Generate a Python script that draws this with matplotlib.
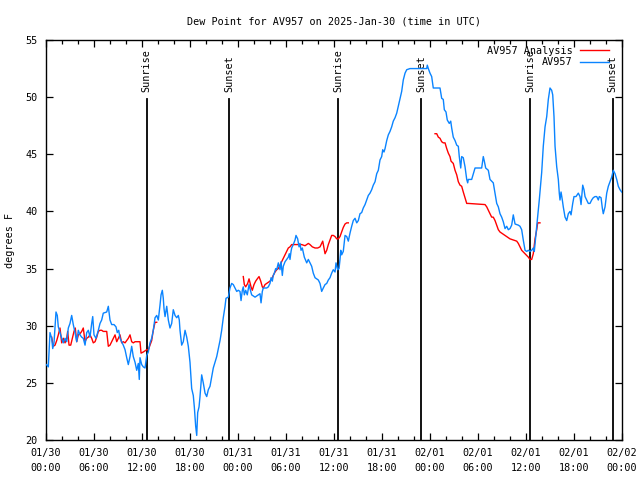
import numpy as np
import matplotlib
matplotlib.use("Agg")
import matplotlib.pyplot as plt
from matplotlib.ticker import MultipleLocator

# ---- data (hours since 2025-01-30 00:00 UTC, dew point in F) ----
obs_hours = [0.05, 0.29, 0.5, 0.71, 0.84, 1.0, 1.25, 1.41, 1.54, 1.75, 1.96, 2.16, 2.38, 2.59, 2.79, 3.0,
             3.21, 3.41, 3.63, 3.84, 4.04, 4.25, 4.46, 4.66, 4.88, 5.09, 5.29, 5.5, 5.71, 5.84, 6.0, 6.25,
             6.54, 6.75, 6.96, 7.16, 7.59, 7.79, 8.0, 8.21, 8.5, 8.75, 8.91, 9.09, 9.25, 9.46, 9.66, 9.88,
             10.09, 10.29, 10.5, 10.71, 10.91, 11.13, 11.34, 11.54, 11.66, 11.75, 11.96, 12.16, 12.38, 12.59,
             12.79, 13.0, 13.21, 13.41, 13.63, 13.84, 14.04, 14.25, 14.38, 14.54, 14.66, 14.75, 14.88, 15.09,
             15.29, 15.5, 15.71, 15.91, 16.13, 16.34, 16.54, 16.66, 16.75, 16.96, 17.16, 17.38, 17.59, 17.79,
             18.0, 18.21, 18.41, 18.54, 18.71, 18.84, 18.96, 19.13, 19.25, 19.46, 19.66, 19.88, 20.09, 20.29,
             20.5, 20.71, 20.91, 21.13, 21.34, 21.54, 21.75, 21.96, 22.16, 22.38, 22.5, 22.79, 23.0, 23.21,
             23.41, 23.63, 23.84, 24.04, 24.25, 24.38, 24.54, 24.66, 24.79, 24.96, 25.16, 25.38, 25.59, 25.71,
             26.13, 26.54, 26.75, 26.88, 27.04, 27.16, 27.59, 27.79, 28.0, 28.13, 28.29, 28.41, 28.54, 28.71,
             28.84, 29.04, 29.25, 29.38, 29.54, 29.66, 29.88, 30.09, 30.29, 30.41, 30.5, 30.63, 30.71, 30.91,
             31.13, 31.25, 31.46, 31.63, 31.75, 31.88, 32.04, 32.29, 32.59, 32.79, 33.0, 33.21, 33.41, 33.63,
             34.04, 34.25, 34.46, 34.66, 34.88, 35.09, 35.29, 35.5, 35.71, 35.91, 36.13, 36.25, 36.46, 36.63,
             36.75, 36.84, 36.96, 37.16, 37.38, 37.59, 37.79, 38.0, 38.21, 38.41, 38.63, 38.84, 39.04, 39.25,
             39.46, 39.66, 39.88, 40.09, 40.29, 40.5, 40.71, 40.91, 41.13, 41.34, 41.54, 41.75, 41.96, 42.09,
             42.25, 42.38, 42.59, 42.79, 43.0, 43.21, 43.41, 43.63, 43.84, 44.04, 44.25, 44.46, 44.66, 44.88,
             45.09, 45.5, 47.59, 47.66, 47.79, 48.0, 48.21, 48.41, 49.25, 49.46, 49.66, 49.79, 50.0, 50.16,
             50.41, 50.59, 50.71, 50.91, 51.13, 51.34, 51.54, 51.66, 51.84, 51.96, 52.16, 52.38, 52.59, 52.71,
             52.79, 53.21, 53.63, 54.46, 54.66, 54.79, 54.96, 55.29, 55.5, 55.91, 56.13, 56.34, 56.54, 56.75,
             56.96, 57.16, 57.38, 57.59, 57.79, 58.0, 58.21, 58.41, 58.63, 59.04, 59.25, 59.46, 59.66, 59.88,
             60.09, 60.29, 60.5, 60.71, 60.91, 61.04, 61.21, 61.34, 61.54, 61.66, 61.84, 61.96, 62.16, 62.38,
             62.59, 62.79, 63.0, 63.21, 63.34, 63.5, 63.63, 63.84, 64.04, 64.16, 64.25, 64.38, 64.54, 64.66,
             64.88, 65.09, 65.29, 65.5, 65.63, 65.84, 66.0, 66.25, 66.54, 66.75, 66.88, 67.09, 67.25, 67.38,
             67.59, 67.79, 68.0, 68.21, 68.41, 68.63, 68.84, 69.04, 69.16, 69.38, 69.54, 69.66, 69.88, 70.09,
             70.29, 70.5, 70.71, 70.91, 71.13, 71.34, 71.54, 71.75, 71.96]
obs_dewpt = [26.6, 26.4, 29.4, 28.9, 28.0, 28.5, 31.2, 30.9, 29.9, 29.4, 28.9, 28.5, 28.9, 28.6, 29.8, 30.2,
             30.9, 30.1, 29.4, 28.6, 29.6, 29.2, 29.0, 28.9, 28.3, 29.4, 29.6, 29.0, 30.2, 30.8, 29.2, 28.9,
             29.6, 30.2, 30.5, 31.1, 31.2, 31.7, 30.5, 30.1, 30.1, 29.9, 29.4, 29.6, 28.9, 28.6, 28.3, 27.9,
             27.2, 26.6, 27.3, 28.2, 27.3, 26.8, 26.1, 26.7, 25.3, 27.2, 26.6, 26.4, 26.3, 27.4,
             27.7, 28.5, 28.9, 29.6, 30.7, 30.9, 30.5, 31.8, 32.7, 33.1, 32.4, 31.5, 30.8, 31.7,
             30.5, 29.8, 30.2, 31.4, 30.9, 30.7, 30.9, 30.5, 29.6, 28.3, 28.6, 29.6, 29.0, 28.2,
             26.8, 24.5, 23.9, 22.9, 21.2, 20.4, 22.4, 22.9, 23.8, 25.7, 25.0, 24.1, 23.8, 24.4,
             24.7, 25.5, 26.3, 26.8, 27.3, 28.0, 28.7, 29.6, 30.7, 31.7, 32.4, 32.5, 33.3, 33.7,
             33.6, 33.3, 33.0, 33.1, 33.0, 32.2, 33.1, 33.4, 32.7, 33.1, 32.7, 33.6, 33.0, 32.7,
             32.5, 32.7, 32.8, 32.0, 33.0, 33.3, 33.3, 33.4, 33.7, 34.2, 33.9, 34.4, 34.6, 35.0,
             34.9, 35.5, 34.9, 35.6, 34.4, 35.2, 35.6, 35.8, 36.0, 36.3, 35.8, 36.5, 36.8, 37.1,
             37.5, 37.9, 37.6, 36.9, 37.2, 36.6, 36.8, 36.0, 35.5, 35.8, 35.5, 35.2, 34.6, 34.2,
             34.0, 33.7, 33.0, 33.3, 33.6, 33.7, 34.0, 34.2, 34.6, 34.9, 34.7, 35.5, 34.9, 35.0,
             35.8, 36.6, 36.2, 36.5, 37.9, 37.8, 37.4, 38.1, 38.7, 39.2, 39.4, 39.0, 39.2, 39.8,
             39.9, 40.3, 40.6, 41.0, 41.4, 41.6, 41.9, 42.3, 42.6, 43.3, 43.6, 44.5, 44.8, 45.4,
             45.2, 45.5, 46.2, 46.7, 47.0, 47.4, 47.9, 48.2, 48.6, 49.2, 49.8, 50.5, 51.5, 52.1,
             52.4, 52.5, 52.5, 52.8, 52.5, 52.1, 51.8, 50.8, 50.8, 49.9, 49.8, 48.9, 48.7, 48.0,
             47.7, 47.9, 47.3, 46.5, 46.2, 45.8, 45.7, 44.8, 43.8, 44.8, 44.7, 43.9, 42.8, 42.5,
             42.8, 42.8, 43.8, 43.8, 44.8, 44.4, 43.8, 43.6, 42.8, 42.5, 41.6, 40.7, 40.4, 39.8,
             39.5, 39.1, 38.5, 38.7, 38.4, 38.5, 38.8, 39.7, 38.9, 38.8, 38.7, 38.4, 37.5, 36.6,
             36.5, 36.6, 36.5, 36.6, 36.8, 36.5, 37.8, 38.7, 40.1, 41.0, 42.5, 43.4, 45.7, 47.4,
             48.3, 49.8, 50.8, 50.6, 50.2, 48.3, 45.7, 43.9, 42.8, 41.6, 41.0, 41.7, 41.0, 40.4,
             39.5, 39.2, 39.8, 40.0, 39.7, 40.7, 41.3, 41.3, 41.6, 41.3, 40.6, 42.3, 41.9, 41.3,
             41.0, 40.7, 40.7, 41.0, 41.2, 41.3, 41.3, 41.0, 41.3, 41.2, 40.3, 39.8, 40.4, 41.6,
             42.2, 42.6, 43.0, 43.6, 43.3, 42.8, 42.2, 41.9, 41.7]

ana_hours = [0.71, 0.91, 1.13, 1.34, 1.54, 1.75, 1.96, 2.16, 2.38, 2.59, 2.71, 2.88, 3.09, 3.29, 3.5, 3.66,
             3.84, 4.04, 4.25, 4.46, 4.66, 4.88, 5.09, 5.29, 5.5, 5.71, 5.91, 6.13, 6.34, 6.54, 6.75, 6.96,
             7.16, 7.59, 7.79, 8.0, 8.21, 8.41, 8.63, 8.84, 9.04, 9.25, 9.46, 9.66, 9.88, 10.09, 10.29, 10.5,
             10.71, 10.91, 11.13, 11.75, 11.88, 12.16, 12.59, 12.79, 13.0, 13.21, 13.41, 13.63, 13.84,
             None,
             24.66, 24.79, 24.96, 25.21, 25.38, 25.63, 25.79, 26.0, 26.21, 26.41, 26.63, 26.84, 27.04, 27.16,
             27.38, 27.59, 28.0, 28.21, 28.41, 28.63, 28.84, 29.04, 29.25, 29.46, 29.66, 29.88, 30.09, 30.29,
             30.5, 30.71, 31.96, 32.38, 32.79, 33.0, 33.29, 33.63, 33.96, 34.25, 34.46, 34.59, 34.75, 34.88,
             35.09, 35.29, 35.5, 35.71, 35.91, 36.13, 36.34, 36.54, 36.75, 36.96, 37.16, 37.38, 37.59, 37.79,
             None,
             48.63, 48.84, 49.04, 49.25, 49.46, 49.66, 49.88, 50.09, 50.29, 50.5, 50.63, 50.91, 51.13, 51.34,
             51.54, 51.75, 51.96, 52.16, 52.38, 52.59, 52.79, 54.88, 55.09, 55.29, 55.5, 55.71, 55.91, 56.13,
             56.34, 56.54, 56.75, 57.16, 57.59, 58.0, 58.41, 58.84, 59.04, 59.25, 59.46, 59.88, 60.29, 60.5,
             60.71, 60.91, 61.13, 61.34, 61.46, 61.75]
ana_dewpt = [29.0, 28.2, 28.3, 28.7, 29.2, 29.8, 28.5, 28.9, 28.5, 28.9, 29.5, 28.3, 28.3, 28.9, 29.5, 29.8,
             28.6, 29.2, 29.3, 29.5, 29.8, 28.6, 28.9, 29.0, 29.2, 28.9, 28.5, 28.6, 29.0, 29.5, 29.6, 29.6,
             29.5, 29.5, 28.2, 28.3, 28.6, 28.9, 29.2, 28.6, 28.9, 29.2, 28.5, 28.6, 28.5, 28.7, 28.9, 29.2,
             28.6, 28.5, 28.6, 28.6, 27.6, 27.7, 27.9, 27.9, 28.3, 28.7, 29.6, 30.3, 30.3,
             None,
             34.3, 33.6, 33.4, 33.7, 34.1, 33.4, 33.1, 33.6, 33.9, 34.1, 34.3, 33.9, 33.4, 33.3,
             33.6, 33.7, 33.9, 34.1, 34.4, 34.7, 34.9, 35.0, 35.3, 35.6, 35.9, 36.2, 36.5, 36.8,
             36.9, 37.1, 37.1, 37.0, 37.2, 37.1, 36.9, 36.8, 36.8, 36.9, 37.2, 37.4, 36.8, 36.3,
             36.6, 37.1, 37.5, 37.9, 37.9, 37.8, 37.6, 37.6, 37.8, 38.2, 38.6, 38.9, 39.0, 39.0,
             None,
             46.8, 46.8, 46.5, 46.4, 46.1, 46.0, 46.0, 45.5, 45.1, 44.8, 44.4, 44.2, 43.6, 43.2,
             42.6, 42.3, 42.2, 41.7, 41.2, 40.7, 40.7, 40.6, 40.4, 40.1, 39.8, 39.5, 39.5, 39.2,
             38.8, 38.4, 38.2, 38.0, 37.8, 37.6, 37.5, 37.4, 37.2, 36.9, 36.6, 36.3, 36.0, 35.8,
             35.8, 36.3, 37.6, 38.4, 39.0, 39.0]

event_hours = [12.58, 22.92, 36.54, 46.92, 60.5, 70.83]
event_labels = ["Sunrise", "Sunset", "Sunrise", "Sunset", "Sunrise", "Sunset"]

xtick_labels = ["01/30\n00:00", "01/30\n06:00", "01/30\n12:00", "01/30\n18:00",
                "01/31\n00:00", "01/31\n06:00", "01/31\n12:00", "01/31\n18:00",
                "02/01\n00:00", "02/01\n06:00", "02/01\n12:00", "02/01\n18:00",
                "02/02\n00:00"]

# ---- plot ----
FONT = "DejaVu Sans Mono"
FS = 7.3
plt.rcParams['font.family'] = FONT
plt.rcParams['font.size'] = FS

fig = plt.figure(figsize=(6.4, 4.8), dpi=100)
ax = fig.add_axes([46/640, 40/480, 576/640, 400/480])

def to_arr(v):
    return np.array([np.nan if a is None else a for a in v], dtype=float)

BLUE = "#0a84ff"
RED = "#ff0000"

for h, lab in zip(event_hours, event_labels):
    ax.plot([h, h], [20, 49.8], color="black", lw=1.3, zorder=1)
    ax.text(h, 50.45, lab, rotation=90, ha="center", va="bottom", fontsize=FS, zorder=1)

ax.plot(to_arr(obs_hours), to_arr(obs_dewpt), color=BLUE, lw=1.0, label="AV957", zorder=3)
ax.plot(to_arr(ana_hours), to_arr(ana_dewpt), color=RED, lw=1.0, label="AV957 Analysis", zorder=2)

ax.set_xlim(0, 72)
ax.set_ylim(20, 55)
ax.set_xticks(np.arange(0, 73, 6))
ax.set_xticklabels(xtick_labels, fontsize=FS, linespacing=1.55)
ax.xaxis.set_minor_locator(MultipleLocator(2))
ax.set_yticks(np.arange(20, 56, 5))
ax.tick_params(axis="y", labelsize=FS, pad=6)
ax.tick_params(axis="x", pad=6)
ax.tick_params(which="major", direction="in", length=5, width=0.9, top=True, right=True)
ax.tick_params(which="minor", direction="in", length=3, width=0.9, top=True, right=False)
for s in ax.spines.values():
    s.set_linewidth(1.0)

ax.set_ylabel("degrees F", fontsize=FS)
ax.yaxis.set_label_coords(-31/576, 0.5)
ax.set_title("Dew Point for AV957 on 2025-Jan-30 (time in UTC)", fontsize=FS, pad=11.5)

handles, labels = ax.get_legend_handles_labels()
order = [1, 0]
leg = ax.legend([handles[i] for i in order], [labels[i] for i in order], loc="upper right",
                bbox_to_anchor=(1 - 4/576, 1 + 3/400),
                frameon=False, markerfirst=False, handlelength=2.9, handletextpad=0.7,
                borderaxespad=0.45, borderpad=0.4, labelspacing=0.15, fontsize=FS)

fig.savefig("out.png", dpi=100)
